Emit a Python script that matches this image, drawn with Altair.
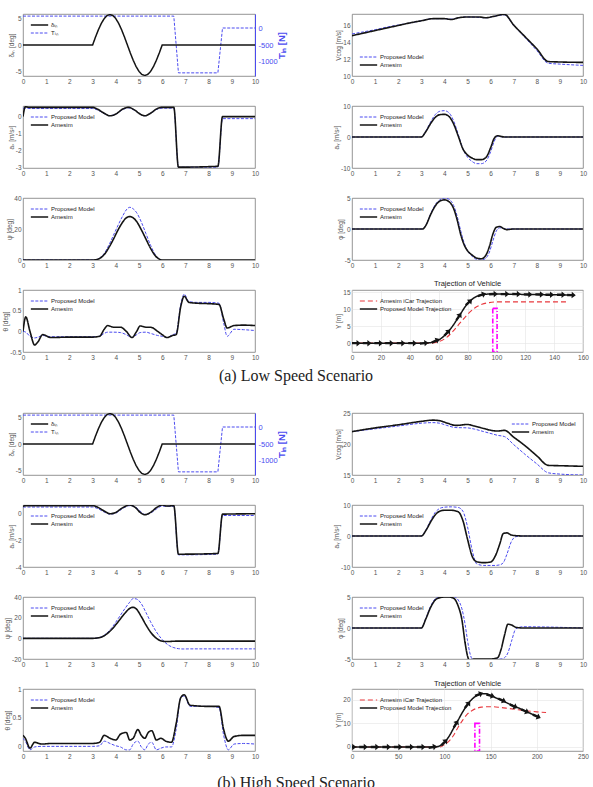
import altair as alt
import numpy as np
import pandas as pd

PM, AM = "Proposed Model", "Amesim"
DIN, TIN = "δᵢₙ", "Tᵢₙ"
RTRAJ, BTRAJ = "Amesim iCar Trajection", "Proposed Model Trajection"
CAP_A = "(a) Low Speed Scenario"
CAP_B = "(b) High Speed Scenario"
TRAJ_TITLE = "Trajection of Vehicle"

BLUE = "#4b4bf0"
BLACK = "#141414"
RED = "#e8383d"
MAG = "#ff00ff"

# ---------------- shared inputs (both scenarios) ----------------
T_DELTA = [0, 3.0, 3.125, 3.25, 3.375, 3.5, 3.625, 3.75, 3.875, 4.0, 4.125, 4.25, 4.375,
           4.5, 4.625, 4.75, 4.875, 5.0, 5.125, 5.25, 5.375, 5.5, 5.625, 5.75, 5.875, 6.0, 10]
DELTA = [0, 0, 1.48, 2.85, 4.03, 4.94, 5.51, 5.7, 5.51, 4.94, 4.03, 2.85, 1.48,
         0, -1.48, -2.85, -4.03, -4.94, -5.51, -5.7, -5.51, -4.94, -4.03, -2.85, -1.48, 0, 0]
T_TIN = [0, 6.5, 6.7, 8.4, 8.6, 10]
TIN_VALS = [350, 350, -1320, -1320, 0, 0]

# ---------------- low speed ----------------
A_V_T = [0, 0.5, 1, 1.5, 2, 2.5, 3, 3.5, 4, 4.3, 4.6, 5, 5.5, 5.8, 6.1, 6.6, 7, 7.5, 8, 8.5, 9, 10]
A_V_AM = [14.75, 15.05, 15.35, 15.65, 15.95, 16.25, 16.5, 16.75, 16.75, 16.65, 16.85,
          16.95, 16.95, 16.85, 17.0, 17.25, 16.0, 14.6, 13.2, 11.7, 11.65, 11.6]
A_V_PM = [14.95, 15.2, 15.45, 15.75, 16.0, 16.25, 16.5, 16.75, 16.75, 16.7, 16.85,
          16.95, 16.9, 16.85, 17.0, 17.2, 15.95, 14.5, 13.0, 11.5, 11.4, 11.25]

A_AX_T = [0, 0.1, 0.3, 1, 2, 3, 3.2, 3.5, 3.75, 4, 4.3, 4.55, 4.8, 5.05, 5.25, 5.5, 5.75,
          6, 6.5, 6.7, 8.4, 8.6, 10]
A_AX_AM = [0, 0.58, 0.55, 0.55, 0.55, 0.55, 0.45, 0.2, 0.05, 0.15, 0.45, 0.55, 0.4, 0.15,
           0.05, 0.2, 0.45, 0.55, 0.55, -3.0, -2.95, 0.0, 0.0]
A_AX_PM = [0.5, 0.5, 0.48, 0.48, 0.48, 0.48, 0.4, 0.18, 0.05, 0.15, 0.42, 0.52, 0.38, 0.15,
           0.05, 0.2, 0.42, 0.5, 0.5, -3.0, -3.0, -0.12, -0.12]

A_AY_T = [0, 3, 3.2, 3.4, 3.6, 3.8, 4.0, 4.2, 4.4, 4.6, 4.8, 5.0, 5.2, 5.4, 5.6, 5.8, 6.0,
          6.15, 6.3, 6.45, 6.6, 7, 10]
A_AY_AM = [0, 0, 1.8, 4.3, 6.3, 7.2, 7.3, 6.6, 4.2, 0.3, -3.8, -5.8, -6.8, -7.3, -7.3, -6.6,
           -3.5, -0.5, 0.4, 0.2, 0, 0, 0]
A_AY_PM = [0, 0, 2.0, 4.8, 7.2, 8.3, 8.5, 7.8, 5.2, 0.8, -3.8, -6.5, -7.9, -8.6, -8.6, -7.8,
           -4.8, -1.5, 0.2, 0.1, 0, 0, 0]

A_PSI_T = [0, 3, 3.1, 3.3, 3.5, 3.7, 3.9, 4.1, 4.3, 4.45, 4.6, 4.75, 4.9, 5.1, 5.3, 5.5, 5.7,
           5.9, 6.0, 6.2, 10]
A_PSI_AM = [0, 0, 0.1, 1, 3.5, 8, 13.5, 19.5, 24.5, 27.2, 28, 27.2, 24.8, 19.5, 13.5, 7.5,
            2.8, 0.4, 0, 0, 0]
A_PSI_PM = [0, 0, 0.1, 1.2, 4.2, 9.5, 16, 22.5, 28.5, 32.3, 34, 33, 30.5, 24.5, 17, 9.5,
            3.5, 0.4, -0.3, -0.5, -0.5]

A_PHI_T = [0, 3.05, 3.2, 3.4, 3.6, 3.8, 4.0, 4.2, 4.4, 4.55, 4.7, 4.85, 5.0, 5.2, 5.4, 5.6,
           5.8, 5.95, 6.1, 6.25, 6.4, 6.55, 6.7, 7, 10]
A_PHI_AM = [0, 0, 0.6, 2.3, 3.7, 4.5, 4.7, 4.4, 3.3, 1.5, -0.8, -2.5, -3.5, -4.2, -4.7, -4.8,
            -4.2, -2.8, -0.8, 0.3, 0.4, 0.1, -0.1, 0, 0]
A_PHI_PM = [0, 0, 0.6, 2.4, 3.9, 4.7, 5.0, 4.8, 3.8, 2.1, -0.2, -2.2, -3.5, -4.4, -4.9, -5.0,
            -4.7, -3.7, -1.9, -0.3, 0.2, 0.1, 0, 0, 0]

A_TH_T = [0, 0.12, 0.3, 0.5, 0.65, 0.85, 1.2, 2, 3, 3.3, 3.5, 3.65, 3.9, 4.2, 4.45, 4.7, 4.9,
          5.05, 5.3, 5.5, 5.8, 6.0, 6.2, 6.45, 6.6, 6.8, 6.95, 7.15, 7.5, 8, 8.45, 8.65, 8.8,
          9.1, 9.5, 10]
A_TH_AM = [0, 0.35, 0.0, -0.33, -0.25, -0.08, -0.15, -0.14, -0.14, -0.12, 0.05, 0.14, 0.1,
           0.1, 0.0, -0.15, 0.0, 0.13, 0.1, 0.1, 0.0, -0.08, -0.15, -0.1, -0.08, 0.6, 0.85,
           0.7, 0.68, 0.67, 0.65, 0.3, 0.08, 0.14, 0.15, 0.14]
A_TH_PM = [0, -0.02, -0.12, -0.16, -0.14, -0.1, -0.13, -0.13, -0.13, -0.12, -0.05, -0.02,
           -0.02, -0.03, -0.08, -0.15, -0.08, -0.03, -0.02, -0.05, -0.1, -0.12, -0.15, -0.08,
           -0.05, 0.65, 0.9, 0.72, 0.7, 0.7, 0.68, 0.2, -0.12, 0.05, 0.04, 0.02]

A_TR_PM_X = [0, 50, 55, 60, 65, 70, 75, 80, 85, 90, 95, 100, 120, 140, 152]
A_TR_PM_Y = [0, 0, 0.2, 0.9, 2.6, 5.2, 8.5, 11.6, 13.4, 14.2, 14.4, 14.4, 14.3, 14.2, 14.1]
A_TR_AM_X = [0, 55, 60, 65, 70, 75, 80, 85, 90, 95, 100, 110, 150]
A_TR_AM_Y = [0, 0, 0.4, 1.5, 3.5, 6.0, 8.4, 10.3, 11.4, 11.9, 12.1, 12.1, 12.1]
A_MK_X = [3, 10.5, 18.5, 26, 34, 42, 50, 58, 66, 74, 81, 90, 98, 106, 114, 122, 130, 137, 145, 152]
A_MK_Y = [0, 0, 0, 0, 0, 0, 0, 0.7, 3.1, 7.8, 12.0, 14.2, 14.4, 14.4, 14.4, 14.3, 14.3, 14.2, 14.2, 14.1]
A_BOX = [97.5, 100.5, -2.5, 10.2]

# ---------------- high speed ----------------
B_V_T = [0, 1, 2, 3, 3.5, 3.8, 4.1, 4.5, 5.0, 5.3, 5.7, 6.1, 6.3, 6.6, 7, 7.5, 8, 8.5, 9, 10]
B_V_AM = [22.0, 22.6, 23.1, 23.65, 23.85, 23.75, 23.4, 23.0, 23.15, 22.9, 22.5, 22.15, 22.1,
          22.2, 21.1, 19.7, 18.1, 16.55, 16.5, 16.4]
B_V_PM = [22.0, 22.45, 22.9, 23.35, 23.45, 23.35, 23.0, 22.65, 22.6, 22.4, 22.0, 21.6, 21.4,
          21.2, 19.9, 18.3, 16.8, 15.35, 15.15, 15.0]

B_AX_T = [0, 0.1, 1, 2, 3, 3.2, 3.5, 3.75, 4.0, 4.3, 4.6, 4.85, 5.05, 5.25, 5.5, 5.75, 6.0,
          6.2, 6.5, 6.7, 8.4, 8.6, 10]
B_AX_AM = [0.5, 0.55, 0.55, 0.55, 0.55, 0.45, 0.15, -0.05, 0.05, 0.4, 0.6, 0.4, 0.05, -0.12,
           0.05, 0.4, 0.6, 0.52, 0.55, -3.05, -3.0, -0.08, -0.05]
B_AX_PM = [0.45, 0.45, 0.45, 0.45, 0.45, 0.35, 0.08, -0.08, 0.0, 0.35, 0.55, 0.45, 0.15, -0.1,
           0.0, 0.3, 0.52, 0.5, 0.5, -3.1, -3.05, -0.18, -0.18]

B_AY_T = [0, 3, 3.2, 3.4, 3.6, 3.8, 4.0, 4.3, 4.6, 4.8, 5.0, 5.2, 5.4, 5.7, 6.0, 6.2, 6.4,
          6.55, 6.7, 6.9, 7.1, 7.5, 10]
B_AY_AM = [0, 0, 1.8, 4.5, 6.8, 8.0, 8.3, 8.3, 7.8, 5.0, -1, -6.5, -8.3, -8.6, -8.4, -6.5,
           -2.5, 0.8, 1.0, 0.3, 0.1, 0, 0]
B_AY_PM = [0, 0, 2.0, 5.0, 7.6, 8.9, 9.3, 9.4, 9.2, 8.0, 3.0, -4.5, -9.0, -9.5, -9.5, -9.5,
           -9.3, -8.6, -6, -1.8, -0.2, 0, 0]

B_PSI_T = [0, 3, 3.2, 3.5, 3.8, 4.1, 4.4, 4.6, 4.75, 4.9, 5.1, 5.3, 5.5, 5.7, 5.9, 6.1, 6.3,
           6.5, 6.7, 6.9, 7.2, 10]
B_PSI_AM = [0, 0, 0.3, 2.5, 8, 16, 24.5, 29, 30, 28, 21, 13, 6, 1, -2, -3, -3, -2.8, -2.7,
            -2.7, -2.7, -2.7]
B_PSI_PM = [0, 0, 0.3, 3, 9.5, 19, 29, 35, 38.5, 38, 33.5, 25, 16, 8, 1.5, -3.5, -7, -9, -10,
            -10.3, -10.2, -10.2]

B_PHI_T = [0, 3, 3.2, 3.4, 3.6, 3.8, 4.0, 4.2, 4.4, 4.6, 4.75, 4.9, 5.0, 5.1, 5.2, 5.35, 5.6,
           6.0, 6.3, 6.45, 6.6, 6.75, 6.9, 7.1, 7.4, 10]
B_PHI_AM = [0, 0, 1.5, 3.3, 4.5, 4.9, 5.0, 5.0, 4.8, 3.5, 1.5, -2.5, -4.5, -5.3, -5.1, -5.0,
            -5.0, -5.0, -4.8, -3.5, -1.2, 0.6, 0.5, 0.1, 0, 0]
B_PHI_PM = [0, 0, 1.6, 3.5, 4.7, 5.1, 5.2, 5.25, 5.1, 4.5, 3.2, 0.5, -2.0, -4.0, -5.0, -5.3,
            -5.2, -5.1, -5.0, -5.0, -4.8, -4.0, -2.2, -0.1, 0.2, 0]

B_TH_T = [0, 0.1, 0.3, 0.5, 0.8, 1.2, 2, 3, 3.3, 3.5, 3.75, 4.0, 4.2, 4.45, 4.6, 4.75, 4.95,
          5.1, 5.25, 5.4, 5.55, 5.75, 5.95, 6.15, 6.4, 6.6, 6.8, 6.95, 7.2, 8, 8.45, 8.65,
          8.85, 9.1, 9.5, 10]
B_TH_AM = [0.2, 0.15, -0.02, 0.08, 0.05, 0.06, 0.06, 0.06, 0.08, 0.2, 0.15, 0.12, 0.22, 0.25,
           0.12, 0.15, 0.3, 0.2, 0.15, 0.25, 0.28, 0.12, 0.15, 0.1, 0.08, 0.4, 0.85, 0.9,
           0.72, 0.7, 0.7, 0.3, 0.1, 0.18, 0.2, 0.2]
B_TH_PM = [0.15, 0.1, -0.05, 0.0, 0.01, 0.01, 0.01, 0.01, 0.02, 0.1, 0.06, 0.02, 0.0, -0.05,
           -0.05, 0.05, 0.1, 0.0, -0.05, 0.05, 0.08, -0.05, -0.02, 0.0, 0.0, 0.3, 0.85, 0.88,
           0.7, 0.7, 0.68, 0.2, -0.05, 0.05, 0.06, 0.05]

B_TR_PM_X = [0, 90, 95, 100, 105, 110, 115, 120, 125, 130, 135, 140, 145, 150, 160, 170, 180, 190, 200]
B_TR_PM_Y = [0, 0, 0.5, 2, 4.5, 8, 11.5, 15, 18, 20.3, 21.8, 22.6, 22.6, 21.8, 20.1, 18.3, 16.6, 14.8, 13]
B_TR_AM_X = [0, 95, 100, 105, 110, 115, 120, 125, 130, 135, 140, 150, 160, 170, 180, 190, 200, 210]
B_TR_AM_Y = [0, 0, 1, 2.5, 5, 8.5, 11.5, 14, 15.5, 16.4, 16.9, 17.1, 16.8, 16.3, 15.8, 15.3, 14.9, 14.6]
B_MK_X = [0, 12.5, 25, 37.5, 50, 62.5, 75, 87.5, 100, 112.5, 125, 137.5, 150, 162.5, 175, 187.5, 200]
B_MK_Y = [0, 0, 0, 0, 0, 0, 0, 0, 2, 9.8, 18, 22.3, 21.8, 19.8, 17.3, 15.2, 13]
B_BOX = [133, 138, -1.7, 10]

# ---------------- layout ----------------
WL, WR, H = 232, 231, 62
ARROW = "M-1,-0.28L0.05,-0.28L0.05,-0.75L1,0L0.05,0.75L0.05,0.28L-1,0.28Z"
TIME_TICKS = list(range(11))


def xenc(dom, ticks, grid=False):
    return alt.X("x:Q", scale=alt.Scale(domain=dom, nice=False, zero=False),
                 axis=alt.Axis(values=ticks, title=None, format="d", grid=grid,
                               labelOverlap=False))


def yenc(dom, ticks, title, grid=False, fmt="~f"):
    return alt.Y("y:Q", scale=alt.Scale(domain=dom, nice=False, zero=False),
                 axis=alt.Axis(values=ticks, title=title, format=fmt, grid=grid,
                               labelOverlap=False))


def style_enc(names, colors, dashes, widths, orient):
    leg = alt.Legend(orient=orient, title=None)
    return dict(
        color=alt.Color("s:N", scale=alt.Scale(domain=names, range=colors), legend=leg),
        strokeDash=alt.StrokeDash("s:N", scale=alt.Scale(domain=names, range=dashes), legend=leg),
        strokeWidth=alt.StrokeWidth("s:N", scale=alt.Scale(domain=names, range=widths), legend=leg),
    )


def df_of(x, y, name):
    return pd.DataFrame({"x": x, "y": y, "s": name})


def cmp_panel(t_pm, v_pm, t_am, v_am, ytitle, ydom, yticks, orient, width):
    st = style_enc([PM, AM], [BLUE, BLACK], [[3, 1.5], [1, 0]], [1.0, 1.6], orient)
    layers = []
    for d in (df_of(t_pm, v_pm, PM), df_of(t_am, v_am, AM)):
        layers.append(
            alt.Chart(d).mark_line(clip=True, interpolate="monotone").encode(
                x=xenc([0, 10], TIME_TICKS), y=yenc(ydom, yticks, ytitle), **st))
    return alt.layer(*layers).properties(width=width, height=H)


def input_panel():
    st = style_enc([DIN, TIN], [BLACK, BLUE], [[1, 0], [3, 1.5]], [1.5, 1.0], "top-left")
    left = alt.Chart(df_of(T_DELTA, DELTA, DIN)).mark_line(clip=True).encode(
        x=xenc([0, 10], TIME_TICKS),
        y=alt.Y("y:Q", scale=alt.Scale(domain=[-5.8, 5.8], nice=False, zero=False),
                axis=alt.Axis(values=[-5, 0, 5], title="δᵢₙ [deg]", orient="left", format="~f")),
        **st)
    right = alt.Chart(df_of(T_TIN, TIN_VALS, TIN)).mark_line(clip=True).encode(
        x=xenc([0, 10], TIME_TICKS),
        y=alt.Y("y:Q", scale=alt.Scale(domain=[-1412, 412], nice=False, zero=False),
                axis=alt.Axis(values=[-1000, -500, 0], title="Tᵢₙ [N]", orient="right",
                              format="d", labelColor=BLUE, titleColor=BLUE, domain=True,
                              domainColor=BLUE, labelFontSize=7.5, labelPadding=3,
                              titleFontSize=9.5, titleAngle=270,
                              titleFontWeight="bold", titlePadding=9)),
        **st)
    return alt.layer(right, left).resolve_scale(y="independent").properties(width=WL, height=H)


def angles(xs, ys, kx, ky):
    xs = np.asarray(xs, float)
    ys = np.asarray(ys, float)
    a = np.degrees(np.arctan2(np.gradient(ys) * ky, np.gradient(xs) * kx))
    return list(np.round((-a) % 360, 1))


def traj_panel(pm_x, pm_y, am_x, am_y, mk_x, mk_y, box, xdom, xticks, ydom, yticks):
    st = style_enc([RTRAJ, BTRAJ], [RED, BLACK], [[5, 3], [1, 0]], [1.1, 1.5], "top-left")
    X = xenc(xdom, xticks, grid=True)
    Y = yenc(ydom, yticks, "Y [m]", grid=True)
    red = alt.Chart(df_of(am_x, am_y, RTRAJ)).mark_line(clip=True, interpolate="monotone").encode(
        x=X, y=Y, **st)
    blk = alt.Chart(df_of(pm_x, pm_y, BTRAJ)).mark_line(clip=True, interpolate="monotone").encode(
        x=X, y=Y, **st)
    kx = WR / (xdom[1] - xdom[0])
    ky = H / (ydom[1] - ydom[0])
    mk = pd.DataFrame({"x": mk_x, "y": mk_y, "a": angles(mk_x, mk_y, kx, ky)})
    marks = alt.Chart(mk).mark_point(shape=ARROW, filled=True, color=BLACK, size=75,
                                     opacity=1, clip=True).encode(
        x=X, y=Y, angle=alt.Angle("a:Q", scale=None))
    bx = pd.DataFrame({"x": [box[0]], "x2": [box[1]], "y": [box[2]], "y2": [box[3]]})
    rect = alt.Chart(bx).mark_rect(fillOpacity=0, stroke=MAG, strokeWidth=1.6,
                                   strokeDash=[5, 2, 1, 2], clip=True).encode(
        x=X, x2="x2:Q", y=Y, y2="y2:Q")
    return alt.layer(red, blk, marks, rect).properties(
        width=WR, height=H, title=alt.TitleParams(TRAJ_TITLE, fontSize=7.5, offset=2))


def caption(text, ypos):
    return alt.Chart(pd.DataFrame({"c": [text]})).mark_text(
        font="Liberation Serif", fontSize=16, align="center", baseline="middle", color="#222"
    ).encode(text="c:N", x=alt.value(273), y=alt.value(ypos)).properties(
        width=WL, height=1, view=alt.ViewBackground(stroke="transparent"))


def blank():
    return alt.Chart(pd.DataFrame({"c": [""]})).mark_text().encode(text="c:N").properties(
        width=WR, height=1, view=alt.ViewBackground(stroke="transparent"))


cells = [
    input_panel(),
    cmp_panel(A_V_T, A_V_PM, A_V_T, A_V_AM, "Vcog [m/s]", [10, 17.3], [10, 12, 14, 16], "bottom-left", WR),
    cmp_panel(A_AX_T, A_AX_PM, A_AX_T, A_AX_AM, "aₓ [m/s²]", [-3.05, 0.63], [-3, -2, -1, 0], "top-left", WL),
    cmp_panel(A_AY_T, A_AY_PM, A_AY_T, A_AY_AM, "aᵧ [m/s²]", [-10, 10], [-10, 0, 10], "top-left", WR),
    cmp_panel(A_PSI_T, A_PSI_PM, A_PSI_T, A_PSI_AM, "ψ [deg]", [0, 40], [0, 20, 40], "top-left", WL),
    cmp_panel(A_PHI_T, A_PHI_PM, A_PHI_T, A_PHI_AM, "φ [deg]", [-5, 5], [-5, 0, 5], "top-left", WR),
    cmp_panel(A_TH_T, A_TH_PM, A_TH_T, A_TH_AM, "θ [deg]", [-0.5, 1], [-0.5, 0, 0.5, 1], "top-left", WL),
    traj_panel(A_TR_PM_X, A_TR_PM_Y, A_TR_AM_X, A_TR_AM_Y, A_MK_X, A_MK_Y, A_BOX,
               [0, 160], list(range(0, 161, 20)), [-2.6, 15.6], [0, 5, 10, 15]),
    caption(CAP_A, -6),
    blank(),
    input_panel(),
    cmp_panel(B_V_T, B_V_PM, B_V_T, B_V_AM, "Vcog [m/s]", [15, 25], [15, 20, 25], "top-right", WR),
    cmp_panel(B_AX_T, B_AX_PM, B_AX_T, B_AX_AM, "aₓ [m/s²]", [-4, 0.6], [-4, -2, 0], "top-left", WL),
    cmp_panel(B_AY_T, B_AY_PM, B_AY_T, B_AY_AM, "aᵧ [m/s²]", [-10, 10], [-10, 0, 10], "top-left", WR),
    cmp_panel(B_PSI_T, B_PSI_PM, B_PSI_T, B_PSI_AM, "ψ [deg]", [-20, 40], [-20, 0, 20, 40], "top-left", WL),
    cmp_panel(B_PHI_T, B_PHI_PM, B_PHI_T, B_PHI_AM, "φ [deg]", [-5, 5], [-5, 0, 5], "top-left", WR),
    cmp_panel(B_TH_T, B_TH_PM, B_TH_T, B_TH_AM, "θ [deg]", [-0.07, 1], [0, 0.5, 1], "top-left", WL),
    traj_panel(B_TR_PM_X, B_TR_PM_Y, B_TR_AM_X, B_TR_AM_Y, B_MK_X, B_MK_Y, B_BOX,
               [0, 250], list(range(0, 251, 50)), [-1.7, 24.6], [0, 10, 20]),
    caption(CAP_B, 2),
    blank(),
]

chart = alt.concat(*cells, columns=2, spacing={"row": 30, "column": 97}, bounds="flush").resolve_scale(
    color="independent", strokeDash="independent", strokeWidth="independent",
    x="independent", y="independent"
).properties(
    padding={"left": 2, "top": 13, "right": 2, "bottom": 2}, background="white"
).configure(
    locale=alt.Locale(number=alt.NumberLocale(decimal=".", thousands=",", grouping=[3],
                                              currency=["", ""], minus="-"))
).configure_view(stroke="#7a7a7a", strokeWidth=0.8).configure_axis(
    labelFont="Liberation Sans", titleFont="Liberation Sans", labelFontSize=6.5,
    titleFontSize=6.5, labelColor="#555", titleColor="#555", titleFontWeight="normal",
    domain=False, ticks=False, labelPadding=2, titlePadding=1, grid=False,
    gridColor="#e4e4e4", gridWidth=0.6, labelOverlap=False, labelFlush=False
).configure_legend(
    labelFont="Liberation Sans", labelFontSize=6, labelColor="#222", symbolType="stroke",
    symbolSize=300, padding=2, rowPadding=0, offset=5, labelOffset=2, clipHeight=8
).configure_title(font="Liberation Sans", fontSize=7.5, fontWeight="normal", color="#222")

chart.save("out.html", embed_options={"renderer": "svg", "actions": False})
